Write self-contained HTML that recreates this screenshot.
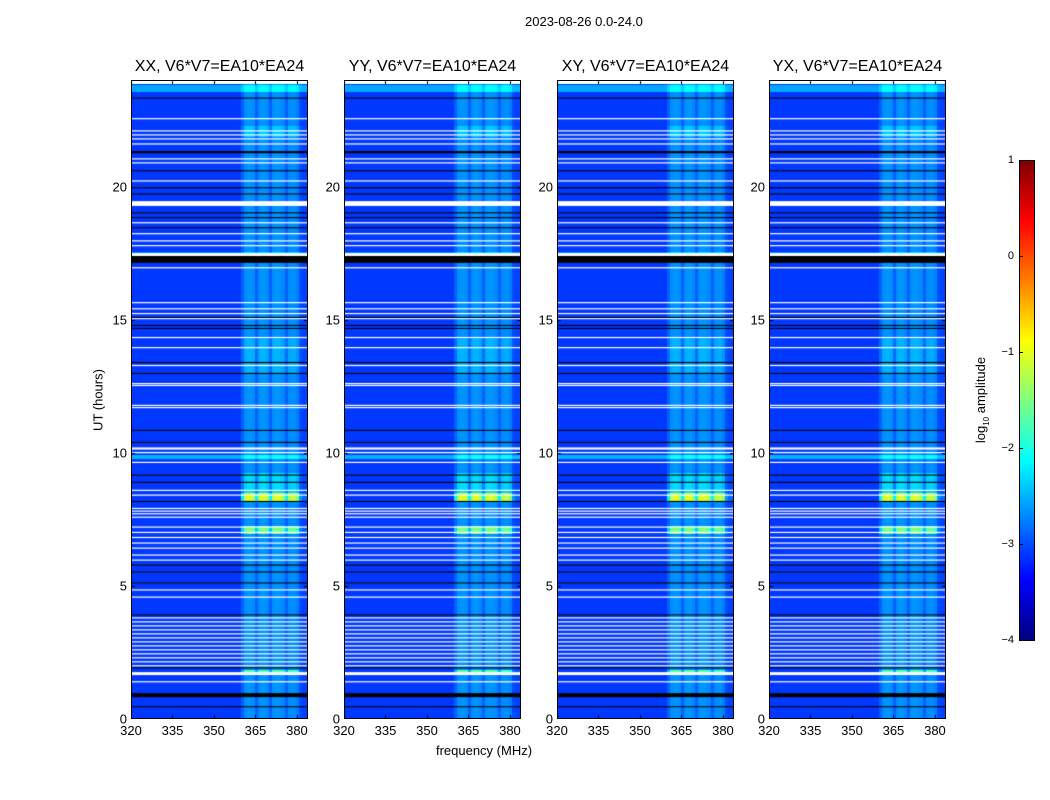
<!DOCTYPE html>
<html><head><meta charset="utf-8"><style>
body{margin:0;background:#fff;font-family:"Liberation Sans",sans-serif;}
#root{position:relative;width:1050px;height:800px;overflow:hidden;background:#fff;}
.t{position:absolute;white-space:nowrap;color:#000;}
canvas{position:absolute;}
</style></head><body>
<div id="root">
<div class="t" style="left:525px;top:14px;font-size:13px;">2023-08-26 0.0-24.0</div>
<div class="t" style="left:484px;top:743px;font-size:13px;transform:translateX(-50%);">frequency (MHz)</div>
<div class="t" style="left:98px;top:400px;font-size:13px;transform:translate(-50%,-50%) rotate(-90deg);">UT (hours)</div>
<div class="t" style="left:982px;top:400px;font-size:13px;transform:translate(-50%,-50%) rotate(-90deg);">log<sub style="font-size:8px">10</sub> amplitude</div>
<div id="cbar" style="position:absolute;left:1019px;top:160px;width:14px;height:479px;border:1px solid #000;background:linear-gradient(to top,#00007f 0%,#0000ff 12.5%,#007fff 25%,#00ffff 37.5%,#7fff7f 50%,#ffff00 62.5%,#ff7f00 75%,#ff0000 87.5%,#7f0000 100%);"></div>
</div>
<script>
const titles=["XX, V6*V7=EA10*EA24","YY, V6*V7=EA10*EA24","XY, V6*V7=EA10*EA24","YX, V6*V7=EA10*EA24"];
const xTicks=[320,335,350,365,380];
const yTicks=[0,5,10,15,20];
const cbTicks=[1,0,-1,-2,-3,-4];
const chanStart=320;
const chanLevel=[0,0,0,0,0,0,0,0,0,0,0,0,0,0,0,0,0,0,0,0,0,0,0,0,0,0,0,0,0,0,0,0,0,0,0,0,0,0,0,0,
0.2,0.42,0.45,0.45,0.42,0.2,0.4,0.45,0.45,0.4,0.2,0.42,0.45,0.45,0.42,0.38,0.2,0.4,0.42,0.42,0.35,0.1,0.05,0.05];
const baseLevel=-3.1;
const rowMult=[[13.0,14.3,1.35],[8.55,9.3,1.8],[8.2,8.55,4.6],[7.0,7.3,3.6],[1.76,1.91,3.2],[21.9,22.3,1.6]];
const rowBase=[[23.6,23.85,0.55],[9.8,9.95,0.6],[17.5,17.6,0.4]];
const whiteHours=[[23.85,24.0],[22.53,22.57],[22.07,22.11],[21.92,21.96],[21.77,21.81],[21.58,21.62],[21.02,21.06],[20.87,20.91],[20.19,20.23],[19.27,19.45],[18.62,18.66],[18.21,18.25],[17.94,17.98],[17.76,17.8],[17.39,17.5],[16.93,16.97],[15.62,15.66],[15.39,15.43],[15.21,15.25],[15.02,15.06],[14.31,14.35],[13.93,13.97],[13.26,13.3],[12.58,12.62],[12.51,12.55],[11.76,11.8],[11.68,11.72],[10.12,10.2],[9.98,10.03],[9.62,9.66],[8.57,8.61],[8.39,8.43],[7.89,7.93],[7.79,7.83],[7.69,7.73],[7.56,7.6],[7.19,7.23],[6.99,7.03],[6.8,6.84],[6.59,6.63],[6.4,6.44],[6.14,6.18],[5.95,5.99],[4.83,4.87],[4.56,4.6],[3.78,3.82],[3.63,3.67],[3.48,3.52],[3.33,3.37],[3.18,3.22],[3.03,3.07],[2.88,2.92],[2.73,2.77],[2.58,2.62],[2.43,2.47],[2.28,2.32],[2.13,2.17],[1.98,2.02],[1.65,1.76],[1.38,1.42]];
const blackHours=[[23.3,23.34],[21.25,21.33],[20.57,20.61],[19.93,19.97],[19.7,19.74],[18.99,19.03],[18.81,18.85],[18.43,18.47],[17.13,17.39],[15.06,15.1],[14.76,14.8],[14.65,14.69],[13.37,13.41],[12.96,13.0],[10.82,10.86],[10.37,10.41],[9.14,9.18],[8.87,8.91],[8.15,8.19],[5.76,5.8],[5.5,5.54],[5.09,5.13],[3.89,3.93],[1.9,1.94],[0.82,0.97],[0.44,0.48]];
const panelLeft=[131,344,557,769];
const PT=80,PW=177,PH=639,XMIN=320,XMAX=384,YMAX=24;
function xs(v,L){return L+(v-XMIN)/(XMAX-XMIN)*PW;}
function ys(h){return PT+PH-(h/YMAX)*PH;}
function jet(v){let t=(v+4)/5;t=Math.max(0,Math.min(1,t));
 const c=x=>Math.round(255*Math.max(0,Math.min(1,1.5-Math.abs(x))));
 return 'rgb('+c(4*t-3)+','+c(4*t-2)+','+c(4*t-1)+')';}
function lookup(arr,h,def){for(const a of arr){if(h>=a[0]&&h<a[1])return a[2];}return def;}
const root=document.getElementById('root');
function txt(s,x,y,size,name,anchor){const d=document.createElement('div');d.className='t';d.textContent=s;d.style.fontSize=size+'px';d.style.left=x+'px';d.style.top=y+'px';d.style.transform=anchor;


root.appendChild(d);}
panelLeft.forEach((L,p)=>{
 const cv=document.createElement('canvas');cv.width=PW;cv.height=PH;cv.style.left=L+'px';cv.style.top=PT+'px';
 
 
 root.appendChild(cv);
 const g=cv.getContext('2d');
 const dh=0.05;
 for(let h=0;h<YMAX;h+=dh){
  const m=lookup(rowMult,h+dh/2,1), b=lookup(rowBase,h+dh/2,0);
  for(let c=0;c<chanLevel.length;c++){
   g.fillStyle=jet(baseLevel+b+chanLevel[c]*m);
   const x0=xs(chanStart+c,L)-L,x1=xs(chanStart+c+1,L)-L;
   const y0=ys(h+dh)-PT,y1=ys(h)-PT;
   g.fillRect(Math.floor(x0),Math.floor(y0),Math.ceil(x1-x0)+1,Math.ceil(y1-y0)+1);
  }
 }
 g.fillStyle='#fff';
 whiteHours.forEach(w=>{const y0=ys(w[1])-PT,y1=ys(w[0])-PT;g.fillRect(0,y0,PW,Math.max(1.2,y1-y0));});
 g.fillStyle='#000';
 blackHours.forEach(w=>{const y0=ys(w[1])-PT,y1=ys(w[0])-PT;g.fillRect(0,y0,PW,Math.max(1,y1-y0));});
 g.fillStyle='#000';
 xTicks.forEach(v=>{const x=Math.round(xs(v,L)-L);g.fillRect(x,PH-4,1,4);g.fillRect(x,0,1,4);});
 yTicks.forEach(v=>{const y=Math.round(ys(v)-PT);g.fillRect(0,y,4,1);g.fillRect(PW-4,y,4,1);});
 const fr=document.createElement('div');
 fr.style.cssText='position:absolute;left:'+L+'px;top:'+PT+'px;width:'+(PW-2)+'px;height:'+(PH-2)+'px;border:1px solid #000;';
 
 
 root.appendChild(fr);
 txt(titles[p],L+PW/2,58,16,'panel-title-'+(p+1),'translateX(-50%)');
 xTicks.forEach(v=>txt(String(v),xs(v,L),723,13,'x-tick-label','translateX(-50%)'));
 yTicks.forEach(v=>txt(String(v),L-4,ys(v),13,'y-tick-label','translate(-100%,-50%)'));
});
cbTicks.forEach(v=>{const y=160+(1-v)/5*480;
 txt(v<0?'\u2212'+(-v):String(v),1014,y,11,'colorbar-tick-label','translate(-100%,-50%)');
 const tk=document.createElement('div');tk.style.cssText='position:absolute;left:1019px;top:'+Math.round(y)+'px;width:4px;height:1px;background:#000;';
 
 
 root.appendChild(tk);});
</script>
</body></html>
